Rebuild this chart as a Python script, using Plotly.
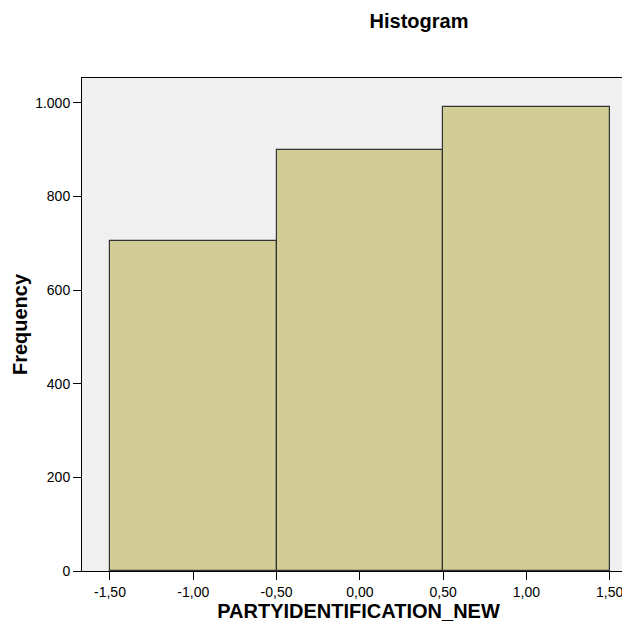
import plotly.graph_objects as go

# Data
bin_edges = [-1.5, -0.5, 0.5, 1.5]
frequencies = [704, 900, 992]
x_tick_vals = [-1.5, -1.0, -0.5, 0.0, 0.5, 1.0, 1.5]
x_tick_text = ["-1,50", "-1,00", "-0,50", "0,00", "0,50", "1,00", "1,50"]
y_tick_vals = [0, 200, 400, 600, 800, 1000]
y_tick_text = ["0", "200", "400", "600", "800", "1.000"]

centers = [(a + b) / 2 for a, b in zip(bin_edges[:-1], bin_edges[1:])]
widths = [b - a for a, b in zip(bin_edges[:-1], bin_edges[1:])]

FONT = "Liberation Sans, Arial, sans-serif"

fig = go.Figure(go.Bar(
    x=centers, y=frequencies, width=widths,
    marker=dict(color="#d2cd96", line=dict(color="#333333", width=1.2)),
    hoverinfo="x+y",
))

fig.update_layout(
    width=630, height=624,
    margin=dict(l=74, r=3, t=70, b=61, autoexpand=False),
    paper_bgcolor="white", plot_bgcolor="#f0f0f0",
    font=dict(family=FONT, color="black", size=14),
    showlegend=False,
    bargap=0,
    title=dict(text="<b>Histogram</b>", x=411/630, xanchor="center",
               xref="container",
               y=1 - 13/624, yanchor="middle", yref="container",
               font=dict(size=20, family=FONT, color="black")),
)
fig.update_xaxes(
    range=[-1.668, 1.652], tickvals=x_tick_vals, ticktext=x_tick_text,
    ticks="outside", ticklen=8, tickcolor="black", tickwidth=1,
    showline=True, linecolor="black", linewidth=1, mirror=True,
    showgrid=False, zeroline=False,
    tickfont=dict(size=14, family=FONT),
    title=dict(text="<b>PARTYIDENTIFICATION_NEW</b>", font=dict(size=20, family=FONT), standoff=3),
)
fig.update_yaxes(
    range=[0, 1053], tickvals=y_tick_vals, ticktext=y_tick_text,
    ticks="outside", ticklen=8, tickcolor="black", tickwidth=1,
    showline=True, linecolor="black", linewidth=1, mirror=True,
    showgrid=False, zeroline=False,
    tickfont=dict(size=14, family=FONT),
    title=dict(text="<b>Frequency</b>", font=dict(size=20, family=FONT), standoff=2),
)

fig.write_html("out.html")
